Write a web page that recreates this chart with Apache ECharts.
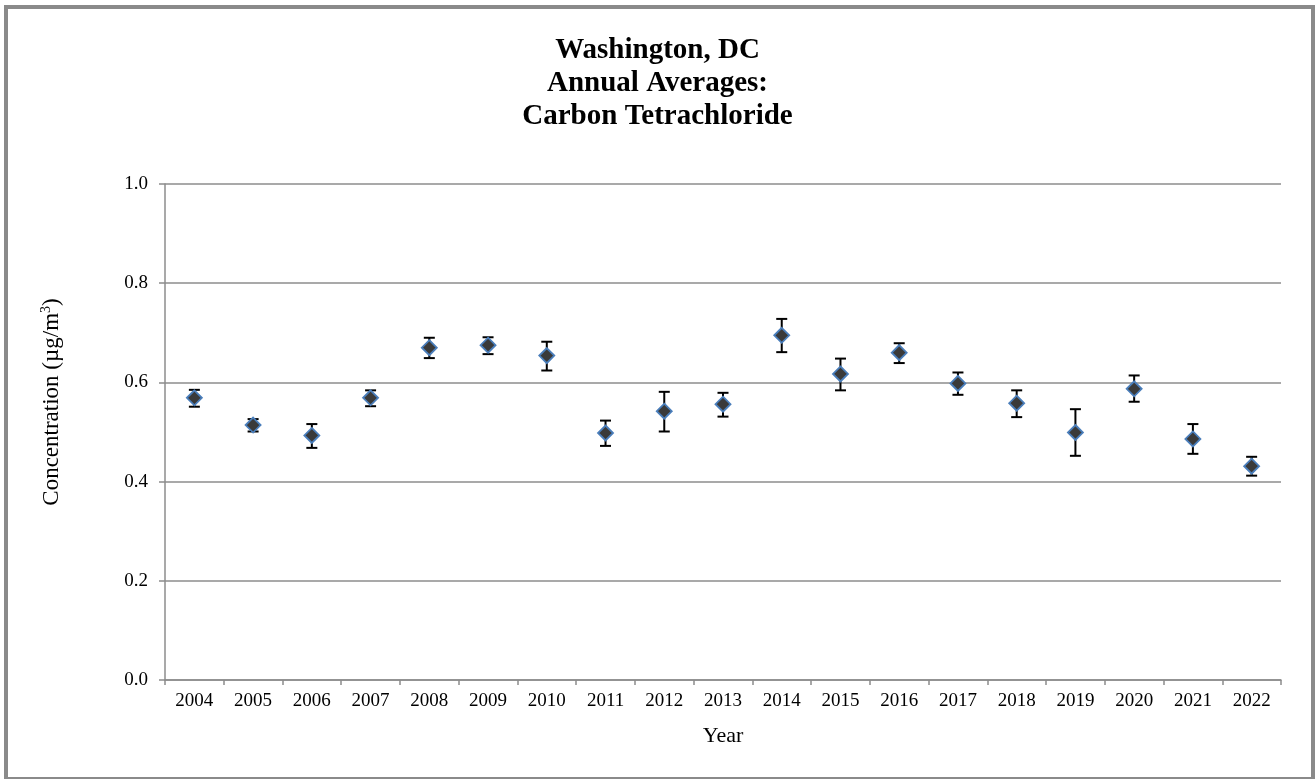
<!DOCTYPE html>
<html>
<head>
<meta charset="utf-8">
<script src="https://cdn.jsdelivr.net/npm/echarts@6/dist/echarts.min.js"></script>
<style>
  html, body { margin: 0; padding: 0; background: #fff; }
  #chart { width: 1315px; height: 779px; }
</style>
</head>
<body>
<div id="chart"></div>
<script>
const years = ["2004", "2005", "2006", "2007", "2008", "2009", "2010", "2011", "2012", "2013",
  "2014", "2015", "2016", "2017", "2018", "2019", "2020", "2021", "2022"];
const means = [0.569, 0.514, 0.493, 0.569, 0.670, 0.675, 0.654, 0.498, 0.542, 0.556,
  0.695, 0.617, 0.660, 0.598, 0.558, 0.499, 0.587, 0.486, 0.431];
const lows = [0.551, 0.501, 0.468, 0.552, 0.649, 0.657, 0.624, 0.472, 0.501, 0.531,
  0.661, 0.584, 0.639, 0.575, 0.530, 0.452, 0.561, 0.456, 0.412];
const highs = [0.585, 0.526, 0.516, 0.584, 0.690, 0.691, 0.682, 0.523, 0.581, 0.579,
  0.728, 0.648, 0.679, 0.620, 0.584, 0.546, 0.614, 0.516, 0.450];

const font = "'Liberation Serif', 'Times New Roman', serif";
const gray = "#8c8c8c";

const chart = echarts.init(document.getElementById("chart"));

// error bar data: [category index, low, high]
const errData = years.map((y, i) => [i, lows[i], highs[i]]);

const renderErr = (params, api) => {
  const x = api.value(0);
  const lo = api.coord([x, api.value(1)]);
  const hi = api.coord([x, api.value(2)]);
  const cap = 5.5;
  const style = { stroke: "#000", lineWidth: 2 };
  return {
    type: "group",
    children: [
      { type: "line", shape: { x1: hi[0], y1: hi[1], x2: lo[0], y2: lo[1] }, style },
      { type: "line", shape: { x1: hi[0] - cap, y1: hi[1], x2: hi[0] + cap, y2: hi[1] }, style },
      { type: "line", shape: { x1: lo[0] - cap, y1: lo[1], x2: lo[0] + cap, y2: lo[1] }, style },
    ],
  };
};

const options = {
  animation: false,
  backgroundColor: "#fff",
  title: {
    text: "Washington, DC\nAnnual Averages:\nCarbon Tetrachloride",
    left: "center",
    top: 29,
    textStyle: {
      fontFamily: font,
      fontSize: 29,
      fontWeight: "bold",
      color: "#000",
      lineHeight: 33,
      align: "center",
    },
  },
  grid: {
    left: 165,
    right: 34,
    top: 184,
    bottom: 99,
  },
  xAxis: {
    type: "category",
    data: years,
    boundaryGap: true,
    name: "Year",
    nameLocation: "middle",
    nameGap: 45,
    nameTextStyle: { fontFamily: font, fontSize: 22, color: "#000" },
    axisLine: { lineStyle: { color: gray, width: 1.5 } },
    axisTick: { show: true, length: 5, lineStyle: { color: gray, width: 1.5 } },
    axisLabel: { fontFamily: font, fontSize: 19, color: "#000", margin: 12, interval: 0 },
  },
  yAxis: {
    type: "value",
    min: 0,
    max: 1,
    interval: 0.2,
    axisLine: { show: true, lineStyle: { color: gray, width: 1.5 } },
    axisTick: { show: true, length: 6, lineStyle: { color: gray, width: 1.5 } },
    splitLine: { lineStyle: { color: gray, width: 1.5 } },
    axisLabel: {
      fontFamily: font,
      fontSize: 19,
      color: "#000",
      margin: 17,
      formatter: (v) => v.toFixed(1),
    },
  },
  graphic: [
    {
      type: "rect",
      shape: { x: 6, y: 7, width: 1307, height: 772 },
      style: { fill: null, stroke: "#8a8a8a", lineWidth: 4 },
      silent: true,
    },
    {
      type: "text",
      x: 52,
      y: 402,
      rotation: Math.PI / 2,
      style: {
        text: "{a|Concentration (µg/m}{s|3}{a|)}",
        align: "center",
        verticalAlign: "middle",
        rich: {
          a: { fontFamily: font, fontSize: 23, color: "#000" },
          s: { fontFamily: font, fontSize: 14, color: "#000", padding: [0, 0, 11, 0] },
        },
      },
    },
  ],
  series: [
    {
      type: "custom",
      data: errData,
      renderItem: renderErr,
      z: 1,
    },
    {
      type: "scatter",
      data: means,
      symbol: "diamond",
      symbolSize: 15,
      itemStyle: { color: "#3a3a3a", borderColor: "#4a7ebb", borderWidth: 1.8, opacity: 1 },
      z: 3,
    },
  ],
};

chart.setOption(options);
</script>
</body>
</html>
